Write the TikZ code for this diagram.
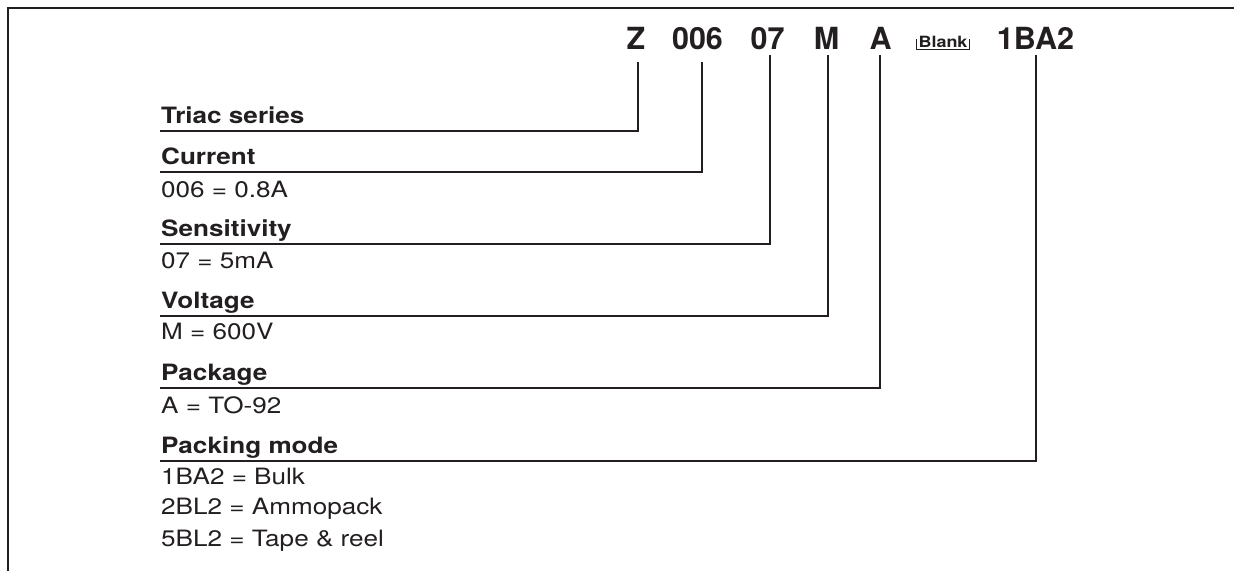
\documentclass[tikz,border=0pt]{standalone}
\usepackage{fontspec}
\setmainfont{TeX Gyre Heros}
\newfontfamily\widesf{TeX Gyre Heros}[FakeStretch=1.16]
\usetikzlibrary{positioning, calc}
\definecolor{ink}{HTML}{231F20}
\tikzset{
  code/.style={anchor=base, font=\fontsize{30.5}{33}\selectfont\bfseries},
  blank/.style={anchor=base, font=\widesf\fontsize{15.5}{17}\selectfont\bfseries},
  head/.style={anchor=base west, font=\widesf\fontsize{22.5}{25}\selectfont\bfseries},
  entry/.style={anchor=base west, font=\widesf\fontsize{22.5}{25}\selectfont},
  link/.style={line width=1.4pt, ink},
  frame/.style={line width=2pt, ink},
}

\begin{document}
\begin{tikzpicture}[x=1pt, y=-1pt, every node/.style={inner sep=0pt, text=ink}]
  \useasboundingbox (0,0) rectangle (1234,571);
  % frame
  \draw[frame] (7.5,571) -- (7.5,7.5) -- (1234,7.5);

  % order code
  \node[code] (hZ) at (636,49) {Z};
  \node[code] (h006) at (697.5,49) {006};
  \node[code] (h07) at (767.5,49) {07};
  \node[code] (hM) at (826.5,49) {M};
  \node[code] (hA) at (880.5,49) {A};
  \node[blank] (hBlank) at (943,47.5) {Blank};
  \node[code] (hPack) at (1035.5,49) {1BA2};
  \draw[link, line width=1.2pt] ([shift={(-2,-8.5)}]hBlank.base west)
    |- ([shift={(2,2)}]hBlank.base east) -- ([shift={(2,-8.5)}]hBlank.base east);

  % fields
  \node[head] (lSeries) at (161,123) {Triac series};
  \node[head] (lCurrent) at (161,164) {Current};
  \node[entry] (vCurrent) at (161,197) {006 = 0.8A};
  \node[head] (lSens) at (161,236) {Sensitivity};
  \node[entry] (vSens) at (161,268) {07 = 5mA};
  \node[head] (lVolt) at (161,308) {Voltage};
  \node[entry] (vVolt) at (161,339) {M = 600V};
  \node[head] (lPkg) at (161,380) {Package};
  \node[entry] (vPkg) at (161,413) {A = TO-92};
  \node[head] (lPack) at (161,453) {Packing mode};
  \node[entry] (vPack1) at (161,484) {1BA2 = Bulk};
  \node[entry] (vPack2) at (161,514) {2BL2 = Ammopack};
  \node[entry] (vPack3) at (161,546) {5BL2 = Tape \& reel};

  % leaders
  \foreach \l/\h/\dx/\dy in {lSeries/hZ/2/13, lCurrent/h006/4.5/13, lSens/h07/2.5/6,
                             lVolt/hM/1.5/6, lPkg/hA/-0.5/6, lPack/hPack/0.5/6}
    \draw[link] ([shift={(-1,8)}]\l.base west) -| ([shift={(\dx,\dy)}]\h.base);
\end{tikzpicture}
\end{document}
